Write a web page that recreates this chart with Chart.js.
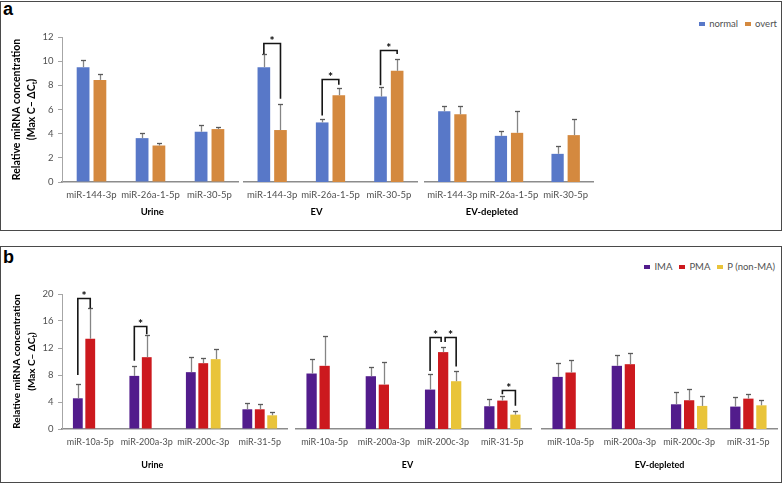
<!DOCTYPE html>
<html>
<head>
<meta charset="utf-8">
<title>Relative miRNA concentration</title>
<script src="https://cdn.jsdelivr.net/npm/chart.js@4.4.1/dist/chart.umd.min.js"></script>
<style>
  html, body { margin: 0; padding: 0; background: #fff; }
  #page { position: relative; width: 784px; height: 484px; overflow: hidden; background: #fff; }
  .box { position: absolute; box-sizing: border-box; border: 1.5px solid #4a4a4a; }
  .tag { position: absolute; left: 3px; font: bold 18px/18px "Liberation Sans", Arial, sans-serif; color: #000; }
  .legend { position: absolute; display: flex; align-items: center; font-family: Lato, sans-serif; font-size: 9.5px; line-height: 12px; color: #505050; white-space: nowrap; }
  .legend i { display: inline-block; width: 6px; height: 4px; margin-right: 4px; }
  .legend span { margin-right: 7px; }
  .legend span:last-child { margin-right: 0; }
  canvas { position: absolute; }
</style>
</head>
<body>
<div id="page">
  <div class="box" style="left:0;top:1px;width:782px;height:230px"></div>
  <div class="box" style="left:0;top:246px;width:782px;height:237px"></div>
  <div class="tag" style="top:0">a</div>
  <div class="tag" style="top:248px">b</div>
  <div class="legend" id="legendA" style="right:7px;top:18px"></div>
  <div class="legend" id="legendB" style="right:9px;top:261px"></div>
</div>
<script>
// sample groups, same for both panels
const groups = ['Urine', 'EV', 'EV-depleted'];

// panel a (values listed Urine, EV, EV-depleted)
const aMirnas = ['miR-144-3p', 'miR-26a-1-5p', 'miR-30-5p'];
const aSeries = ['normal', 'overt'];
const aNormal    = [9.5, 3.63, 4.16,   9.5, 4.93, 7.07,   5.85, 3.82, 2.33];
const aNormalErr = [0.61, 0.39, 0.52,  1.08, 0.28, 0.8,   0.44, 0.42, 0.61];
const aOvert     = [8.45, 3.02, 4.38,  4.3, 7.18, 9.2,    5.6, 4.07, 3.88];
const aOvertErr  = [0.47, 0.17, 0.14,  2.13, 0.64, 0.94,  0.72, 1.78, 1.36];
const aTicks = [0, 2, 4, 6, 8, 10, 12];
// group, miRNA, left series, right series, bracket top, left leg end, right leg end
const aSig = [
  [1, 0, 0, 1, 11.5, 10.6, 6.9],
  [1, 1, 0, 1, 8.5, 5.5, 8.05],
  [1, 2, 0, 1, 10.92, 8.0, 10.6],
];

// panel b
const bMirnas = ['miR-10a-5p', 'miR-200a-3p', 'miR-200c-3p', 'miR-31-5p'];
const bSeries = ['IMA', 'PMA', 'P (non-MA)'];
const bIMA    = [4.55, 7.87, 8.42, 2.92,   8.22, 7.82, 5.84, 3.37,   7.72, 9.36, 3.66, 3.32];
const bIMAErr = [2.08, 1.44, 2.27, 0.99,   2.13, 1.39, 2.28, 1.04,   2.08, 1.58, 1.88, 1.38];
const bPMA    = [13.37, 10.64, 9.75, 2.92, 9.36, 6.58, 11.39, 4.21,  8.37, 9.6, 4.26, 4.5];
const bPMAErr = [4.55, 3.27, 0.84, 0.79,   4.45, 3.32, 0.79, 0.69,   1.78, 1.59, 1.73, 0.7];
const bP      = [null, null, 10.35, 2.03,  null, null, 7.08, 2.13,   null, null, 3.42, 3.51];
const bPErr   = [null, null, 1.53, 0.54,   null, null, 1.53, 0.49,   null, null, 1.53, 0.75];
const bTicks = [0, 4, 8, 12, 16, 20];
const bSig = [
  [0, 0, 0, 1, 19.4, 8.0, 17.9],
  [0, 1, 0, 1, 15.2, 10.1, 14.05],
  [1, 2, 0, 1, 13.7, 8.6, 12.9],
  [1, 2, 1, 2, 13.7, 12.9, 9.25],
  [1, 3, 1, 2, 5.8, 5.15, 3.45],
];

const FONT = 'Lato, "Open Sans", sans-serif';

const errorBars = {
  id: 'errorBars',
  afterDatasetsDraw(chart) {
    const { ctx } = chart;
    const y = chart.scales.y;
    ctx.save();
    chart.data.datasets.forEach((ds, i) => {
      chart.getDatasetMeta(i).data.forEach((bar, j) => {
        const v = ds.data[j], e = ds.errors[j];
        if (v == null || e == null) return;
        const x = Math.round(bar.x) + 0.5;
        const y0 = y.getPixelForValue(v), y1 = Math.round(y.getPixelForValue(v + e)) + 0.5;
        ctx.strokeStyle = '#858585';
        ctx.lineWidth = 1.3;
        ctx.beginPath();
        ctx.moveTo(x, y0);
        ctx.lineTo(x, y1);
        ctx.stroke();
        ctx.strokeStyle = '#5a5a5a';
        ctx.beginPath();
        ctx.moveTo(x - 2.5, y1);
        ctx.lineTo(x + 2.5, y1);
        ctx.stroke();
      });
    });
    ctx.restore();
  }
};

const sigBrackets = {
  id: 'sigBrackets',
  afterDatasetsDraw(chart, args, o) {
    const items = o.items || [];
    const { ctx } = chart;
    const y = chart.scales.y;
    ctx.save();
    ctx.strokeStyle = '#151515';
    ctx.lineWidth = 1.6;
    ctx.lineJoin = 'miter';
    ctx.fillStyle = '#000';
    ctx.font = 'bold 12px ' + FONT;
    ctx.textAlign = 'center';
    ctx.textBaseline = 'alphabetic';
    items.forEach(it => {
      const [, cat, s1, s2, top, l, r] = it;
      let x1 = chart.getDatasetMeta(s1).data[cat].x;
      let x2 = chart.getDatasetMeta(s2).data[cat].x;
      if (items.some(b => b !== it && b[1] === cat && b[3] === s1)) x1 += 2;
      if (items.some(b => b !== it && b[1] === cat && b[2] === s2)) x2 -= 2;
      const yt = Math.round(y.getPixelForValue(top)) + 0.5;
      ctx.beginPath();
      ctx.moveTo(x1, y.getPixelForValue(l));
      ctx.lineTo(x1, yt);
      ctx.lineTo(x2, yt);
      ctx.lineTo(x2, y.getPixelForValue(r));
      ctx.stroke();
      ctx.fillText('*', (x1 + x2) / 2, yt + 1);
    });
    ctx.restore();
  }
};

const groupTitle = {
  id: 'groupTitle',
  afterDraw(chart, args, o) {
    const { ctx, chartArea: a } = chart;
    ctx.save();
    ctx.font = 'bold ' + o.size + 'px ' + FONT;
    ctx.fillStyle = '#000';
    ctx.textAlign = 'center';
    ctx.textBaseline = 'middle';
    ctx.fillText(o.text, a.left + o.frac * (a.right - a.left), a.bottom + o.dy);
    ctx.restore();
  }
};

const yTitle = {
  id: 'yTitle',
  afterDraw(chart, args, o) {
    const { ctx, chartArea: a } = chart;
    const cy = (a.top + a.bottom) / 2;
    const big = 'bold ' + o.size + 'px ' + FONT;
    const small = 'bold ' + (o.size * 0.7) + 'px ' + FONT;
    ctx.save();
    ctx.fillStyle = '#000';
    ctx.textBaseline = 'middle';
    ctx.translate(a.left - 45, cy);
    ctx.rotate(-Math.PI / 2);
    ctx.font = big;
    ctx.textAlign = 'center';
    ctx.fillText(o.lines[0], 0, 0);
    // second line with subscript t
    const [main, sub, tail] = o.lines[1];
    ctx.textAlign = 'left';
    const w1 = ctx.measureText(main).width, w3 = ctx.measureText(tail).width;
    ctx.font = small;
    const w2 = ctx.measureText(sub).width;
    let x = -(w1 + w2 + w3) / 2;
    const gap = 14.5;
    ctx.font = big;
    ctx.fillText(main, x, gap);
    ctx.font = small;
    ctx.fillText(sub, x + w1, gap + o.size * 0.28);
    ctx.font = big;
    ctx.fillText(tail, x + w1 + w2, gap);
    ctx.restore();
  }
};

function drawPanel(p) {
  const page = document.getElementById('page');
  const n = p.mirnas.length;
  p.groups.forEach((g, gi) => {
    const first = gi === 0;
    const [areaLeft, areaRight] = p.segments[gi];
    const left = first ? 0 : areaLeft;
    const cv = document.createElement('canvas');
    cv.width = areaRight - left;
    cv.height = p.height;
    cv.style.left = left + 'px';
    cv.style.top = p.top + 'px';
    page.appendChild(cv);

    const yAxis = {
      display: first,
      min: 0,
      max: p.ticks[p.ticks.length - 1],
      afterBuildTicks: s => { s.ticks = p.ticks.map(v => ({ value: v })); },
      grid: { display: true, drawOnChartArea: false, drawTicks: true, tickLength: 4, color: '#a6a6a6' },
      border: { display: true, color: '#a6a6a6', width: 1 },
      ticks: { color: '#505050', font: { family: FONT, size: 9.5 }, padding: 4.5 },
    };
    if (first) yAxis.afterFit = s => { s.width = 58; s.paddingTop = 0; s.paddingBottom = 0; };

    new Chart(cv, {
      type: 'bar',
      data: {
        labels: p.mirnas,
        datasets: p.series.map((name, si) => ({
          label: name,
          data: p.values[si].slice(gi * n, gi * n + n),
          errors: p.errors[si].slice(gi * n, gi * n + n),
          backgroundColor: p.colors[si],
          borderWidth: 0,
        })),
      },
      options: {
        responsive: false,
        animation: false,
        events: [],
        layout: { padding: { top: 10, left: first ? 4 : 0, right: 0, bottom: 0 } },
        datasets: { bar: { categoryPercentage: p.catPct, barPercentage: p.barPct } },
        scales: {
          x: {
            grid: { display: false, drawTicks: false },
            border: { display: true, color: '#8c8c8c', width: 1.6 },
            ticks: {
              color: '#505050', font: { family: FONT, size: p.labelSize },
              padding: 7.5, maxRotation: 0, minRotation: 0, autoSkip: false,
            },
            afterFit: s => { s.height = p.axisH; s.paddingLeft = 0; s.paddingRight = 0; },
          },
          y: yAxis,
        },
        plugins: {
          legend: { display: false },
          tooltip: { enabled: false },
          groupTitle: { text: g, frac: p.titlePos[gi], dy: p.titleDy, size: p.titleSize },
          yTitle: first ? {
            size: p.yTitleSize,
            lines: ['Relative miRNA concentration', ['(Max C\u2013 \u0394C', 't', ')']],
          } : false,
          sigBrackets: { items: p.sig.filter(s => s[0] === gi) },
        },
      },
      plugins: [errorBars, sigBrackets, groupTitle, yTitle],
    });
  });

  const legend = document.getElementById(p.legendId);
  legend.innerHTML = p.series.map((name, si) =>
    '<i style="background:' + p.colors[si] + '"></i><span>' + name + '</span>').join('');
}

drawPanel({
  groups, mirnas: aMirnas, series: aSeries,
  values: [aNormal, aOvert], errors: [aNormalErr, aOvertErr],
  colors: ['#5878c8', '#d4893f'],
  ticks: aTicks, sig: aSig,
  segments: [[62, 239], [243, 418], [424, 594]],
  top: 27, height: 195, axisH: 40,
  catPct: 0.57, barPct: 0.76,
  labelSize: 9.5, titleSize: 9.5, yTitleSize: 10.5,
  titlePos: [0.51, 0.42, 0.4], titleDy: 30,
  legendId: 'legendA',
});

drawPanel({
  groups, mirnas: bMirnas, series: bSeries,
  values: [bIMA, bPMA, bP], errors: [bIMAErr, bPMAErr, bPErr],
  colors: ['#521c8c', '#cc191e', '#e9c43a'],
  ticks: bTicks, sig: bSig,
  segments: [[62, 288], [295, 532], [541, 778]],
  top: 284, height: 191, axisH: 46,
  catPct: 0.66, barPct: 0.79,
  labelSize: 9, titleSize: 9, yTitleSize: 10,
  titlePos: [0.4, 0.475, 0.5], titleDy: 36,
  legendId: 'legendB',
});
</script>
</body>
</html>
